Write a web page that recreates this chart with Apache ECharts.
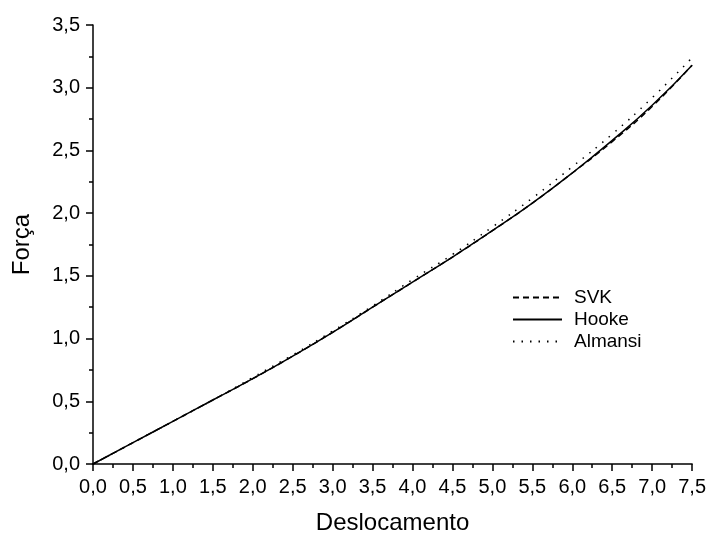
<!DOCTYPE html>
<html>
<head>
<meta charset="utf-8">
<script src="https://cdn.jsdelivr.net/npm/echarts@6/dist/echarts.min.js"></script>
<style>html,body{margin:0;padding:0;background:#fff}#c{width:709px;height:540px}</style>
</head>
<body>
<div id="c"></div>
<script>
var xValues = [0, 0.5, 1.0, 1.5, 2.0, 2.5, 3.0, 3.5, 4.0, 4.5, 5.0, 5.5, 6.0, 6.5, 7.0, 7.5];
var svk     = [0, 0.17, 0.34, 0.51, 0.68, 0.86, 1.05, 1.25, 1.45, 1.65, 1.86, 2.08, 2.32, 2.57, 2.85, 3.18];
var hooke   = [0, 0.17, 0.34, 0.51, 0.68, 0.86, 1.05, 1.25, 1.45, 1.65, 1.86, 2.08, 2.32, 2.58, 2.86, 3.18];
var almansi = [0, 0.17, 0.34, 0.51, 0.69, 0.87, 1.06, 1.26, 1.47, 1.67, 1.89, 2.12, 2.37, 2.63, 2.92, 3.24];
var seriesNames = ['SVK', 'Hooke', 'Almansi'];
var xTitle = 'Deslocamento';
var yTitle = 'Força';

function pairs(ys) { return xValues.map(function (x, i) { return [x, ys[i]]; }); }
function fmt(v) { return v.toFixed(1).replace('.', ','); }
var FONT = 'Liberation Sans, Arial, sans-serif';

var chart = echarts.init(document.getElementById('c'));
chart.setOption({
  animation: false,
  backgroundColor: '#fff',
  grid: { left: 93, right: 16, top: 25, bottom: 74 },
  legend: {
    orient: 'vertical',
    left: 512,
    top: 288,
    padding: 0,
    itemWidth: 49,
    itemHeight: 14,
    itemGap: 3,
    itemStyle: { opacity: 0 },
    textStyle: { fontFamily: FONT, fontSize: 19, color: '#000', padding: [0, 0, 0, 7] },
    data: seriesNames
  },
  xAxis: {
    type: 'value', min: 0, max: 7.5, interval: 0.5,
    name: xTitle, nameLocation: 'middle', nameGap: 47,
    nameTextStyle: { fontFamily: FONT, fontSize: 24, color: '#000' },
    axisLine: { onZero: false, lineStyle: { color: '#000', width: 1.5 } },
    axisTick: { show: true, length: 7, lineStyle: { color: '#000', width: 1.5 } },
    minorTick: { show: true, splitNumber: 2, length: 4, lineStyle: { color: '#000', width: 1.5 } },
    splitLine: { show: false },
    axisLabel: { fontFamily: FONT, fontSize: 20, color: '#000', margin: 13, formatter: fmt }
  },
  yAxis: {
    type: 'value', min: 0, max: 3.5, interval: 0.5,
    name: yTitle, nameLocation: 'middle', nameGap: 59,
    nameTextStyle: { fontFamily: FONT, fontSize: 24, color: '#000' },
    axisLine: { onZero: false, lineStyle: { color: '#000', width: 1.5 } },
    axisTick: { show: true, length: 7, lineStyle: { color: '#000', width: 1.5 } },
    minorTick: { show: true, splitNumber: 2, length: 4, lineStyle: { color: '#000', width: 1.5 } },
    splitLine: { show: false },
    axisLabel: { fontFamily: FONT, fontSize: 20, color: '#000', margin: 13, formatter: fmt }
  },
  series: [
    { name: seriesNames[0], type: 'line', smooth: true, symbol: 'none', data: pairs(svk),
      lineStyle: { color: '#000', width: 1.5, type: [6, 4] }, itemStyle: { color: '#000' } },
    { name: seriesNames[1], type: 'line', smooth: true, symbol: 'none', data: pairs(hooke),
      lineStyle: { color: '#000', width: 1.5, type: 'solid' }, itemStyle: { color: '#000' } },
    { name: seriesNames[2], type: 'line', smooth: true, symbol: 'none', data: pairs(almansi),
      lineStyle: { color: '#000', width: 1.5, type: [1.5, 7] }, itemStyle: { color: '#000' } }
  ]
});
</script>
</body>
</html>
